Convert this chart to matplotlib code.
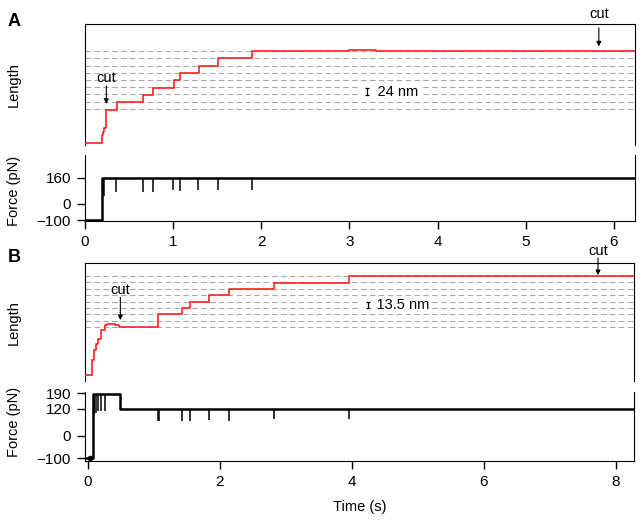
import numpy as np
import matplotlib
matplotlib.use('Agg')
import matplotlib.pyplot as plt

plt.rcParams['font.family'] = ['Liberation Sans', 'DejaVu Sans']
plt.rcParams['font.size'] = 10.5

# ---- panel A data ----
lenA_t = [0, 0.19, 0.20, 0.216, 0.242, 0.362, 0.655, 0.775, 1.005, 1.08, 1.29, 1.51, 1.90, 3.0, 3.3, 6.24]
lenA_nm = [-112, -85, -75, -63, -2, 22, 46, 71, 96, 120, 144, 168, 193, 194, 193, 193]
gridA = [0, 24, 48, 72, 96, 120, 144, 168, 192]

forceA_t = [0, 0.197, 6.24]
forceA_pN = [-100, 160, 160]
spikeA_t = [0.205, 0.22, 0.356, 0.663, 0.773, 1.003, 1.08, 1.284, 1.51, 1.898]
spikeA_pN = [60, 50, 73, 73, 73, 88, 82, 85, 85, 85]

# ---- panel B data ----
lenB_t = [-0.04, 0.07, 0.10, 0.12, 0.15, 0.20, 0.257, 0.30, 0.42, 0.47, 1.065, 1.43, 1.555, 1.84, 2.14, 2.82, 3.96, 8.28]
lenB_nm = [-102, -70, -49, -35, -24, -6, 4, 6, 4, 0, 27, 40.5, 54, 67, 80.5, 94, 108, 108]
gridB = [0, 13.5, 27, 40.5, 54, 67.5, 81, 94.5, 108]

forceB_t = [-0.04, 0.08, 0.485, 8.28]
forceB_pN = [-100, 188, 120, 120]
spikeB_t = [0.09, 0.12, 0.156, 0.207, 0.27, 1.07, 1.085, 1.434, 1.555, 1.833, 2.14, 2.82, 3.96]
spikeB_pN = [95, 100, 110, 112, 110, 64, 66, 67, 67, 72, 68, 76, 75]

RED = '#ff2020'
GRID = '#a8a8a8'

fig = plt.figure(figsize=(6.44, 5.25), dpi=100)


def length_axes(rect, xlim, ylim):
    ax = fig.add_axes(rect)
    ax.set_xlim(xlim)
    ax.set_ylim(ylim)
    ax.spines['bottom'].set_visible(False)
    ax.set_xticks([])
    ax.set_yticks([])
    return ax


def force_axes(rect, xlim, ylim, yticks, xticks):
    ax = fig.add_axes(rect)
    ax.set_xlim(xlim)
    ax.set_ylim(ylim)
    ax.spines['top'].set_visible(False)
    ax.set_yticks(yticks)
    ax.set_xticks(xticks)
    ax.tick_params(direction='out', length=6, width=1, pad=4, labelsize=11)
    return ax


def draw_force(ax, st, sv, sp_t, sp_v):
    ax.plot(st, sv, color='black', lw=1.8, drawstyle='steps-post')
    st = np.array(st)
    tops = [sv[np.searchsorted(st, t, 'right') - 1] for t in sp_t]
    ax.vlines(sp_t, sp_v, tops, color='black', lw=1.1)


def cut(ax, x, y_text, y_tail, y_tip):
    ax.text(x, y_text, 'cut', ha='center', va='bottom', clip_on=False)
    ax.annotate('', xy=(x, y_tip), xytext=(x, y_tail), annotation_clip=False,
                arrowprops=dict(arrowstyle='-|>', color='black', lw=0.8, mutation_scale=7,
                                shrinkA=0, shrinkB=0))


def scalebar(ax, x, yc, h, xt, label):
    ax.text(xt, yc, '    ' + label, ha='left', va='center', zorder=4,
            bbox=dict(fc='white', ec='none', pad=1))
    ax.errorbar([x], [yc], yerr=[h / 2], color='black', lw=0.9, capsize=1.5,
                capthick=0.9, zorder=5)


# ---- panel A ----
axA = length_axes([0.132, 0.724, 0.854, 0.230], (0, 6.24), (-119, 281))
for g in gridA:
    axA.axhline(g, color=GRID, lw=0.8, ls=(0, (5, 3)), zorder=1)
axA.plot(lenA_t, lenA_nm, color=RED, lw=1.2, drawstyle='steps-post', zorder=3)
cut(axA, 0.242, 80, 76, 17)
cut(axA, 5.83, 293, 269, 207)
scalebar(axA, 3.2, 57, 24, 3.13, '24 nm')

axAf = force_axes([0.132, 0.579, 0.854, 0.126], (0, 6.24), (-105, 301),
                  [-100, 0, 160], [0, 1, 2, 3, 4, 5, 6])
draw_force(axAf, forceA_t, forceA_pN, spikeA_t, spikeA_pN)

# ---- panel B ----
axB = length_axes([0.132, 0.274, 0.853, 0.225], (-0.04, 8.28), (-114, 135.6))
for g in gridB:
    axB.axhline(g, color=GRID, lw=0.8, ls=(0, (5, 3)), zorder=1)
axB.plot(lenB_t, lenB_nm, color=RED, lw=1.2, drawstyle='steps-post', zorder=3)
cut(axB, 0.495, 64, 63, 15)
cut(axB, 7.73, 146, 146, 110)
scalebar(axB, 4.24, 46.6, 13.5, 4.13, '13.5 nm')

axBf = force_axes([0.132, 0.122, 0.853, 0.131], (-0.04, 8.28), (-113, 195),
                  [-100, 0, 120, 190], [0, 2, 4, 6, 8])
draw_force(axBf, forceB_t, forceB_pN, spikeB_t, spikeB_pN)
axBf.plot([0.03], [-100], 'o', color='black', ms=3)
axBf.set_xlabel('Time (s)', labelpad=8)

# ---- labels ----
fig.text(14 / 644, 1 - 85 / 525, 'Length', rotation=90, ha='center', va='center')
fig.text(14 / 644, 1 - 191 / 525, 'Force (pN)', rotation=90, ha='center', va='center')
fig.text(14 / 644, 1 - 323 / 525, 'Length', rotation=90, ha='center', va='center')
fig.text(14 / 644, 1 - 422 / 525, 'Force (pN)', rotation=90, ha='center', va='center')
fig.text(14 / 644, 1 - 21 / 525, 'A', fontsize=13, fontweight='bold', ha='center', va='center')
fig.text(14 / 644, 1 - 258 / 525, 'B', fontsize=13, fontweight='bold', ha='center', va='center')

fig.savefig('out.png', dpi=100)
